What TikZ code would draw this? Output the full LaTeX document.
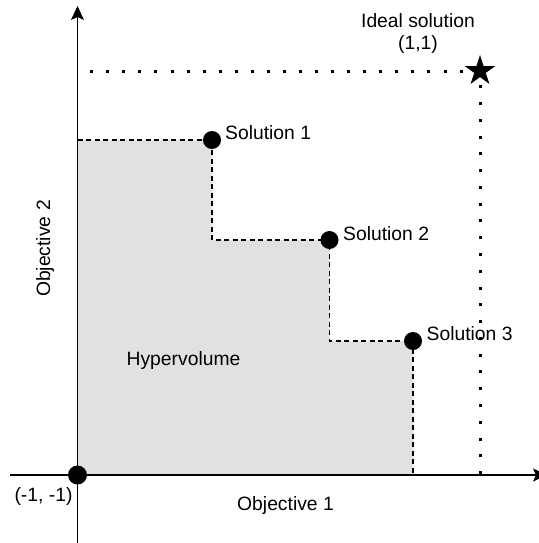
\documentclass[tikz,border=0pt]{standalone}
\usepackage{fontspec}
\setmainfont{Liberation Sans}
\usetikzlibrary{arrows.meta}
\definecolor{hvgray}{HTML}{E1E1E1}
\begin{document}
\begin{tikzpicture}[x=1pt,y=-1pt,
  font=\fontsize{19.3pt}{23pt}\selectfont,
  axisline/.style={line width=1.6pt, -{Stealth[length=14pt,width=13pt,inset=3pt]}},
  hvdash/.style={line width=1.3pt, dash pattern=on 5pt off 3.5pt},
  hdots/.style={line width=3pt, dash pattern=on 3pt off 13.06pt},
  vdots/.style={line width=3pt, dash pattern=on 3pt off 13.78pt},
  soldot/.style={circle, fill=black, inner sep=0pt, minimum size=18pt},
  lbl/.style={anchor=base west, inner sep=0pt},
  txt/.style={anchor=base, inner sep=0pt}]
\useasboundingbox (0,0) rectangle (538,543);
% coordinates
\coordinate (O) at (77.5,475);
\coordinate (p1) at (212,140);
\coordinate (p2) at (329.5,240);
\coordinate (p3) at (413,341);
\coordinate (xs) at (10,475);
\coordinate (xe) at (547,475);
\coordinate (ys) at (77.5,543);
\coordinate (ye) at (77.5,6);
\coordinate (st) at (480,71);
\coordinate (hs) at (90.2,71.7);
\coordinate (he) at (462.5,71.7);
\coordinate (vs) at (480,85.2);
\coordinate (ve) at (480,475);
% hypervolume area
\fill[hvgray] (O) |- (p1) |- (p2) |- (p3) -- (p3 |- O) -- cycle;
% dashed staircase
\draw[hvdash] (O |- p1) -- (p1) -- (p1 |- p2) -- (p2) -- (p2 |- p3) -- (p3) -- (p3 |- O);
% dotted lines to ideal point
\draw[hdots] (hs) -- (he);
\draw[vdots] (vs) -- (ve);
% axes
\draw[axisline] (xs) -- (xe);
\draw[axisline] (ys) -- (ye);
% star
\fill (st) +(-90:16) -- +(-54:6.1) -- +(-18:16) -- +(18:6.1) -- +(54:16) -- +(90:6.1) -- +(126:16) -- +(162:6.1) -- +(198:16) -- +(234:6.1) -- cycle;
% dots
\node[soldot] (s1) at (p1) {};
\node[soldot] (s2) at (p2) {};
\node[soldot] (s3) at (p3) {};
\node[soldot, minimum size=19pt] (o) at (O) {};
% labels
\node[lbl] (l1) at (225,139) {Solution 1};
\node[lbl] (l2) at (343,240) {Solution 2};
\node[lbl] (l3) at (426.5,340.5) {Solution 3};
\node[txt] (li) at (418,28) {Ideal solution};
\node[txt] (lc) at (418,49) {(1,1)};
\node[txt] (lh) at (183.5,365.7) {Hypervolume};
\node[txt] (lx) at (285.5,510) {Objective 1};
\node[txt, rotate=90] (ly) at (50,248.5) {Objective 2};
\node[txt] (lo) at (43.5,501) {(-1, -1)};
\end{tikzpicture}
\end{document}
